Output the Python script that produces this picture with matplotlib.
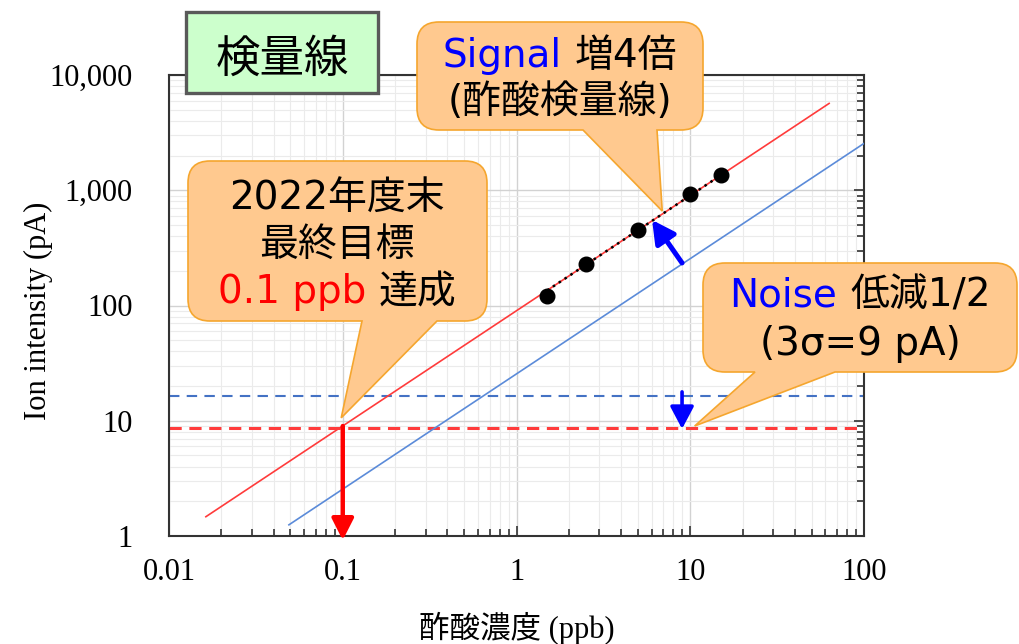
import matplotlib
matplotlib.use('Agg')
import matplotlib.pyplot as plt
from matplotlib.path import Path
from matplotlib.patches import PathPatch, FancyBboxPatch
from matplotlib.ticker import FixedLocator, FixedFormatter, LogLocator, NullFormatter

# ---------------- data ----------------
conc = [1.5, 2.5, 5, 10, 15]                # ppb
intensity = [120, 230, 450, 920, 1350]      # pA
new_cal_x = [0.0163, 63]                    # new calibration line (signal x4)
new_cal_y = [1.47, 5670]
fit_x = [1.5, 15]
fit_y = [135, 1350]
old_cal_x = [0.049, 100]                    # old calibration line
old_cal_y = [1.25, 2550]
noise_old = 16.5                            # pA
noise_new = 8.7                             # pA (3 sigma)
lod_x = 0.1
xticks = [0.01, 0.1, 1, 10, 100]
xticklabels = ['0.01', '0.1', '1', '10', '100']
yticks = [1, 10, 100, 1000, 10000]
yticklabels = ['1', '10', '100', '1,000', '10,000']

W, H = 1019, 644
CJK = ['DejaVu Sans', 'Noto Sans CJK JP']
SERIF = ['Liberation Serif', 'Noto Sans CJK JP']

fig = plt.figure(figsize=(W / 100, H / 100), dpi=100)
ax = fig.add_axes([169 / W, 1 - 536 / H, 695 / W, 461 / H])
ax.set_xscale('log')
ax.set_yscale('log')
ax.set_xlim(0.01, 100)
ax.set_ylim(1, 10000)

ax.xaxis.set_major_locator(FixedLocator(xticks))
ax.xaxis.set_major_formatter(FixedFormatter(xticklabels))
ax.yaxis.set_major_locator(FixedLocator(yticks))
ax.yaxis.set_major_formatter(FixedFormatter(yticklabels))
ax.xaxis.set_minor_locator(LogLocator(base=10, subs=range(2, 10), numticks=20))
ax.yaxis.set_minor_locator(LogLocator(base=10, subs=range(2, 10), numticks=20))
ax.xaxis.set_minor_formatter(NullFormatter())
ax.yaxis.set_minor_formatter(NullFormatter())

ax.grid(which='major', color='#d2d2d2', lw=1.0)
ax.grid(which='minor', color='#ebebeb', lw=0.8)
ax.set_axisbelow(True)

for s in ax.spines.values():
    s.set_color('#333333')
    s.set_linewidth(1.5)

ax.tick_params(which='both', direction='in', bottom=True, right=True, left=False, top=False,
               colors='#333333', width=1.2)
ax.tick_params(which='major', length=7)
ax.tick_params(which='minor', length=5)
ax.tick_params(axis='x', which='major', labelsize=22, pad=16, labelcolor='black')
ax.tick_params(axis='y', which='major', labelsize=22, pad=26, labelcolor='black')
for lab in ax.get_xticklabels() + ax.get_yticklabels():
    lab.set_family(SERIF)

ax.set_xlabel('酢酸濃度 (ppb)', fontsize=22, family=SERIF)
ax.xaxis.set_label_coords(0.5, -0.2)
ax.xaxis.label.set_va('center')
ax.set_ylabel('Ion intensity (pA)', fontsize=22, family=SERIF)
ax.yaxis.set_label_coords(-0.188, 0.488)
ax.yaxis.label.set_va('center')

# ---------------- lines ----------------
ax.axhline(noise_old, color='#4472C4', lw=1.5, ls=(0, (5, 3.5)), zorder=2)
ax.axhline(noise_new, color='#FF3B3B', lw=2.2, ls=(0, (4, 2.5)), zorder=2)
ax.plot(new_cal_x, new_cal_y, color='#FF3B3B', lw=1.2, zorder=3)
ax.plot(old_cal_x, old_cal_y, color='#5B8BD9', lw=1.2, zorder=3)
ax.plot(fit_x, fit_y, color='black', lw=1.8, ls=(0, (1, 1.8)), zorder=4)
ax.plot(conc, intensity, 'o', color='black', ms=10.5, zorder=5, clip_on=False)

# arrows
ax.annotate('', xy=(lod_x, 0.92), xytext=(lod_x, 9.0),
            arrowprops=dict(arrowstyle='-|>,head_width=0.33,head_length=0.65', lw=3.2,
                            color='#FF0000', shrinkA=0, shrinkB=0, mutation_scale=20),
            annotation_clip=False, zorder=6)
ax.annotate('', xy=(6.03, 552), xytext=(8.97, 234),
            arrowprops=dict(arrowstyle='-|>,head_width=0.36,head_length=0.68', lw=3.6,
                            color='#0000FF', shrinkA=0, shrinkB=0, mutation_scale=20),
            annotation_clip=False, zorder=6)
ax.annotate('', xy=(8.97, 8.5), xytext=(8.97, 17.8),
            arrowprops=dict(arrowstyle='-|>,head_width=0.36,head_length=0.68', lw=2.6,
                            color='#0000FF', shrinkA=0, shrinkB=0, mutation_scale=20),
            annotation_clip=False, zorder=6)


# ---------------- callouts ----------------
def fxy(px, py):
    return px / W, 1 - py / H


def data_px(x, y):
    d = ax.transData.transform((x, y))
    return d[0], H - d[1]


def callout(x0, y0, x1, y1, r, bx0, bx1, tip):
    tx, ty = tip
    pts = [
        ((x0 + r, y0), Path.MOVETO),
        ((x1 - r, y0), Path.LINETO),
        ((x1, y0), Path.CURVE3), ((x1, y0 + r), Path.CURVE3),
        ((x1, y1 - r), Path.LINETO),
        ((x1, y1), Path.CURVE3), ((x1 - r, y1), Path.CURVE3),
        ((bx1, y1), Path.LINETO),
        ((tx, ty), Path.LINETO),
        ((bx0, y1), Path.LINETO),
        ((x0 + r, y1), Path.LINETO),
        ((x0, y1), Path.CURVE3), ((x0, y1 - r), Path.CURVE3),
        ((x0, y0 + r), Path.LINETO),
        ((x0, y0), Path.CURVE3), ((x0 + r, y0), Path.CURVE3),
        ((x0 + r, y0), Path.CLOSEPOLY),
    ]
    verts = [fxy(*p) for p, _ in pts]
    codes = [c for _, c in pts]
    patch = PathPatch(Path(verts, codes), facecolor='#FFC98F', edgecolor='#F5A62E',
                      lw=1.2, transform=fig.transFigure, zorder=8, clip_on=False)
    fig.add_artist(patch)


renderer = fig.canvas.get_renderer()


def line_text(parts, cx, baseline, size, gap=13):
    texts = [fig.text(0, 0, s, color=c, fontsize=size, family=CJK, ha='left',
                      va='baseline', zorder=9) for s, c in parts]
    widths = [t.get_window_extent(renderer).width for t in texts]
    total = sum(widths) + gap * (len(parts) - 1)
    x = cx - total / 2
    for t, w in zip(texts, widths):
        t.set_position(fxy(x, baseline))
        x += w + gap


callout(188, 161, 487, 321, 22, 362, 437, data_px(0.098, 10.6))
callout(417, 22, 703, 130, 22, 583, 657, data_px(6.9, 660))
callout(703, 263, 1017, 372, 22, 755, 835, data_px(10.6, 9.0))

line_text([('2022年度末', 'black')], 337, 210, 28)
line_text([('最終目標', 'black')], 337, 256, 28)
line_text([('0.1 ppb', '#FF0000'), ('達成', 'black')], 337, 303, 28)

line_text([('Signal', '#0000FF'), ('増4倍', 'black')], 560, 67, 28)
line_text([('(酢酸検量線)', 'black')], 560, 113, 28)

line_text([('Noise', '#0000FF'), ('低減1/2', 'black')], 860, 307, 28)
line_text([('(3σ=9 pA)', 'black')], 860, 355, 28)

# title box
x0, y0, x1, y1 = 186, 12, 378, 93
title_box = FancyBboxPatch(fxy(x0, y1), (x1 - x0) / W, (y1 - y0) / H,
                           boxstyle='square,pad=0', facecolor='#CCFFCC',
                           edgecolor='#595959', lw=2.4, transform=fig.transFigure,
                           zorder=8, clip_on=False)
fig.add_artist(title_box)
line_text([('検量線', 'black')], 282, 72, 32)

fig.savefig('out.png', dpi=100)
